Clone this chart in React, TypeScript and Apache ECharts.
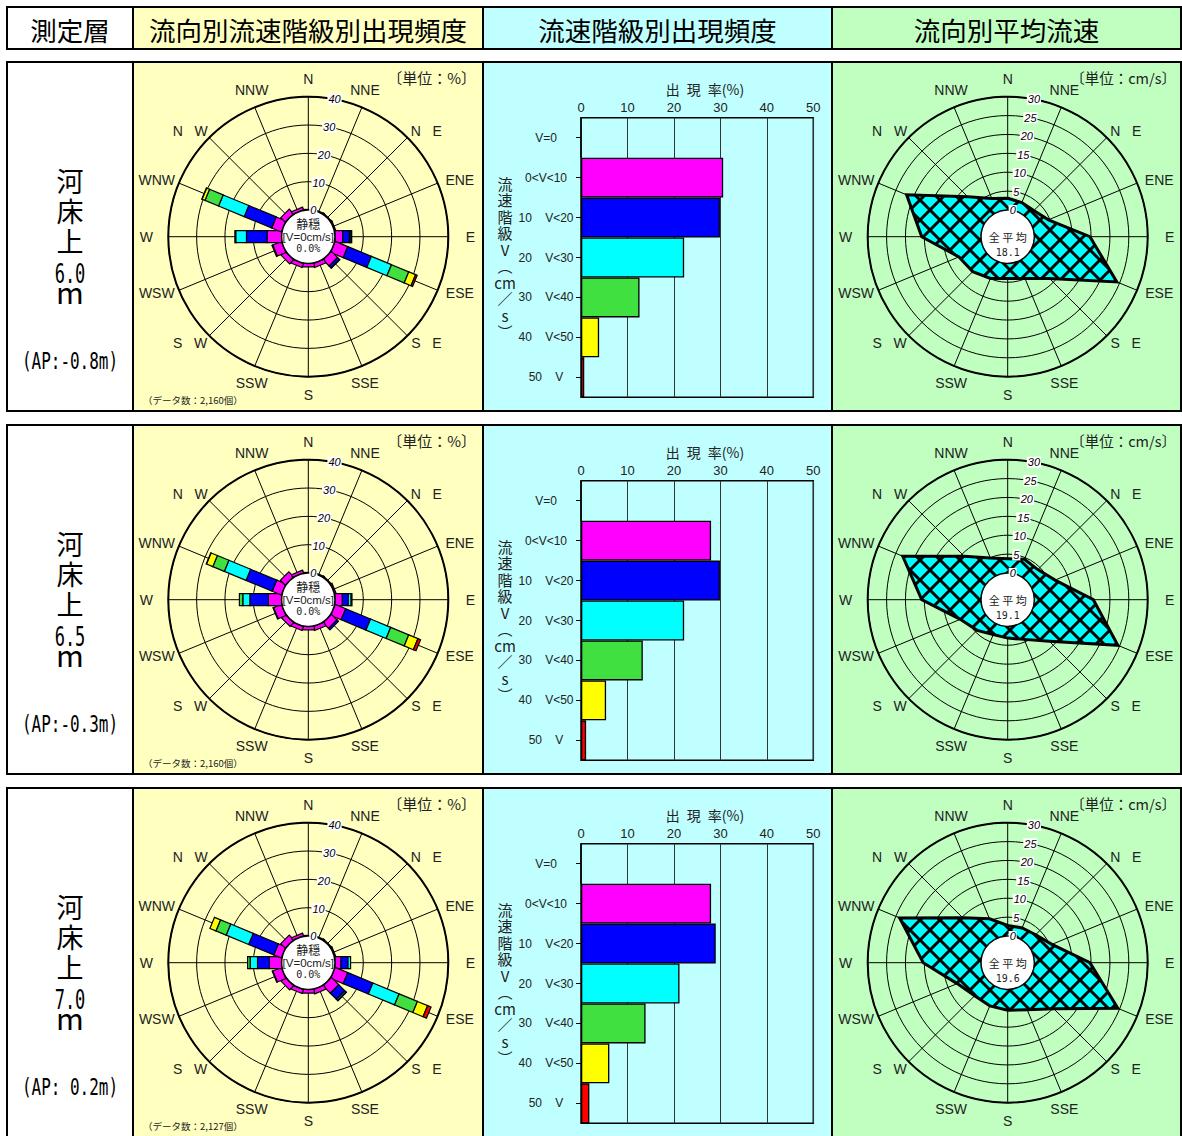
import React, { useEffect, useRef } from 'react';
import * as echarts from 'echarts';

// ---------------- categories / labels ----------------
const DIRECTION_LABELS = ['N', 'NNE', 'N   E', 'ENE', 'E', 'ESE', 'S   E', 'SSE', 'S', 'SSW', 'S   W', 'WSW', 'W', 'WNW', 'N   W', 'NNW'];
const DIRECTION_ANGLES = [0, 22.5, 45, 67.5, 90, 112.5, 135, 157.5, 180, 202.5, 225, 247.5, 270, 292.5, 315, 337.5];

const HEADER_TITLES = ['測定層', '流向別流速階級別出現頻度', '流速階級別出現頻度', '流向別平均流速'];
const LAYER_HEIGHTS = ['6.0', '6.5', '7.0'];
const LAYER_AP = ['(AP:-0.8m)', '(AP:-0.3m)', '(AP: 0.2m)'];
const DATA_COUNTS = ['2,160', '2,160', '2,127'];
const OVERALL_MEAN = ['18.1', '19.1', '19.6'];
const CALM_RATE = ['0.0%', '0.0%', '0.0%'];

const SPEED_CLASSES = ['V=0', '0<V<10', '10    V<20', '20    V<30', '30    V<40', '40    V<50', '50    V'];
const CLASS_COLORS = ['#999999', '#ff00ff', '#0000ff', '#00ffff', '#40e040', '#ffff00', '#ff0000'];
const ROSE_SEG_COLORS = ['#ff00ff', '#0000ff', '#00ffff', '#40e040', '#ffff00', '#ff0000'];

const FREQ_TICKS = [0, 10, 20, 30, 40];
const SPEED_TICKS = [0, 5, 10, 15, 20, 25, 30];

// ---------------- rose data (% per direction, per speed class) ----------------
// 河床上 6.0m
const R60_C1 = [0.2, 0.3, 0.3, 0.4, 2.7, 4.8, 3.1, 1.5, 1.2, 1.5, 2.0, 3.3, 5.1, 3.7, 2.2, 1.0];
const R60_C2 = [0, 0, 0, 0, 2.4, 9.0, 1.0, 0, 0, 0, 0, 0.3, 7.3, 10.5, 0, 0];
const R60_C3 = [0, 0, 0, 0, 0.5, 7.7, 0.1, 0, 0, 0, 0, 0, 3.8, 9.8, 0, 0];
const R60_C4 = [0, 0, 0, 0, 0.3, 6.6, 0, 0, 0, 0, 0, 0, 0.3, 5.2, 0, 0];
const R60_C5 = [0, 0, 0, 0, 0, 2.6, 0, 0, 0, 0, 0, 0, 0, 1.1, 0, 0];
const R60_C6 = [0, 0, 0, 0, 0, 0.6, 0, 0, 0, 0, 0, 0, 0, 0.1, 0, 0];
// 河床上 6.5m
const R65_C1 = [0.2, 0.3, 0.3, 0.5, 2.6, 4.0, 2.8, 1.5, 1.2, 1.5, 1.8, 3.0, 4.7, 3.5, 2.4, 1.0];
const R65_C2 = [0, 0, 0, 0, 2.1, 9.5, 0.7, 0, 0, 0, 0, 0.2, 6.5, 10.0, 0, 0];
const R65_C3 = [0, 0, 0, 0, 1.0, 7.7, 0, 0, 0, 0, 0, 0, 2.5, 8.3, 0, 0];
const R65_C4 = [0, 0, 0, 0, 0.3, 6.9, 0, 0, 0, 0, 0, 0, 1.2, 4.4, 0, 0];
const R65_C5 = [0, 0, 0, 0, 0, 3.5, 0, 0, 0, 0, 0, 0, 0, 2.4, 0, 0];
const R65_C6 = [0, 0, 0, 0, 0, 1.0, 0, 0, 0, 0, 0, 0, 0, 0.1, 0, 0];
// 河床上 7.0m
const R70_C1 = [0.2, 0.3, 0.3, 0.4, 2.1, 4.8, 3.7, 1.6, 1.3, 1.5, 2.0, 3.3, 4.3, 2.9, 2.2, 1.0];
const R70_C2 = [0, 0, 0, 0, 2.5, 9.6, 3.0, 0, 0, 0, 0, 0.2, 4.2, 9.6, 0, 0];
const R70_C3 = [0, 0, 0, 0, 0.9, 10.0, 0.6, 0, 0, 0, 0, 0, 2.6, 8.6, 0, 0];
const R70_C4 = [0, 0, 0, 0, 0, 7.0, 0.2, 0, 0, 0, 0, 0, 0.9, 3.9, 0, 0];
const R70_C5 = [0, 0, 0, 0, 0, 3.9, 0, 0, 0, 0, 0, 0, 0, 2.3, 0, 0];
const R70_C6 = [0, 0, 0, 0, 0, 1.3, 0, 0, 0, 0, 0, 0, 0, 0, 0, 0];

const ROSE_ROWS = [
  [R60_C1, R60_C2, R60_C3, R60_C4, R60_C5, R60_C6],
  [R65_C1, R65_C2, R65_C3, R65_C4, R65_C5, R65_C6],
  [R70_C1, R70_C2, R70_C3, R70_C4, R70_C5, R70_C6],
];

// ---------------- speed class frequency (%) ----------------
const CLASS_FREQ_60 = [0, 30.6, 29.9, 22.2, 12.6, 3.9, 0.7];
const CLASS_FREQ_65 = [0, 28.0, 29.9, 22.2, 13.3, 5.4, 1.1];
const CLASS_FREQ_70 = [0, 28.0, 29.0, 21.2, 13.9, 6.1, 1.8];
const CLASS_FREQ_ROWS = [CLASS_FREQ_60, CLASS_FREQ_65, CLASS_FREQ_70];

// ---------------- mean speed per direction (cm/s) ----------------
const MEAN_SPEED_60 = [3.1, 2.7, 2.7, 4.6, 14.7, 24.2, 8.6, 4.9, 4.0, 4.9, 6.0, 6.9, 15.7, 21.9, 7.9, 3.9];
const MEAN_SPEED_65 = [3.8, 4.5, 4.2, 6.5, 15.6, 24.5, 8.5, 4.3, 3.1, 2.9, 4.4, 6.5, 15.7, 23.0, 9.2, 4.9];
const MEAN_SPEED_70 = [2.8, 2.9, 3.4, 5.6, 14.7, 24.5, 10.2, 6.4, 5.5, 5.3, 5.3, 7.4, 15.3, 23.9, 9.8, 5.5];
const MEAN_SPEED_ROWS = [MEAN_SPEED_60, MEAN_SPEED_65, MEAN_SPEED_70];

// ---------------- layout ----------------
const COL_X = [7, 133, 483, 832, 1181];
const PANEL_COLORS = ['#ffffff', '#ffffc0', '#c0ffff', '#c0ffc0'];
const HEADER_TOP = 7;
const HEADER_H = 42;
const ROW_TOP = [62, 425, 788];
const ROW_H = 349;
const ROSE_CX = 308.3;
const VEL_CX = 1007.7;
const CY_OFF = 174.7;
const R_IN = 26.7;
const R_OUT = 140;
const FREQ_MAX = 40;
const SPEED_MAX = 30;
const GRID_LEFT = 581;
const GRID_TOP_OFF = 55.7;
const GRID_W = 232.3;
const GRID_H = 279.6;
const BAR_HALF = 6;
// direction label placement radii, indexed by steps (0..4) away from the N-S axis
const LABEL_RX = [0, 148, 167, 164, 162];
const LABEL_RY = [158, 158.8, 150, 148, 0];

const CJK = "'Noto Sans CJK JP', sans-serif";
const NARROW = "'Liberation Sans Narrow', 'Liberation Sans', Arial, sans-serif";
const SANS = "'Liberation Sans', Arial, sans-serif";
const MONO = "'DejaVu Sans Mono', monospace";

function makeHatch() {
  const s = 20;
  const c = document.createElement('canvas');
  c.width = s;
  c.height = s;
  const ctx = c.getContext('2d')!;
  ctx.fillStyle = '#00ffff';
  ctx.fillRect(0, 0, s, s);
  ctx.strokeStyle = '#000000';
  ctx.lineWidth = 3;
  ctx.beginPath();
  for (const k of [-s, 0, s]) {
    ctx.moveTo(k, 0);
    ctx.lineTo(k + s, s);
    ctx.moveTo(k + s, 0);
    ctx.lineTo(k, s);
  }
  ctx.stroke();
  return { image: c, repeat: 'repeat', imageWidth: s, imageHeight: s };
}

function txt(x: number, y: number, text: string, style: any, extra: any = {}) {
  return {
    type: 'text',
    x,
    y,
    z: 100,
    ...extra,
    style: {
      text,
      fill: '#111',
      align: 'center',
      verticalAlign: 'middle',
      textAlign: 'center',
      textVerticalAlign: 'middle',
      ...style,
    },
  };
}

function cell(x: number, y: number, w: number, h: number, fill: string) {
  return {
    type: 'rect',
    z: -10,
    shape: { x, y, width: w, height: h },
    style: { fill, stroke: '#000', lineWidth: 2 },
  };
}

function buildOption() {
  const hatch = makeHatch();
  const polar: any[] = [];
  const angleAxis: any[] = [];
  const radiusAxis: any[] = [];
  const grid: any[] = [];
  const xAxis: any[] = [];
  const yAxis: any[] = [];
  const series: any[] = [];
  const g: any[] = [];

  HEADER_TITLES.forEach((t, c) => {
    g.push(cell(COL_X[c], HEADER_TOP, COL_X[c + 1] - COL_X[c], HEADER_H, PANEL_COLORS[c]));
    g.push(txt((COL_X[c] + COL_X[c + 1]) / 2, HEADER_TOP + HEADER_H / 2 + 1, t, { fontSize: 26.5, fontFamily: CJK, fill: '#000' }));
  });

  const tickAngle = (10.8 * Math.PI) / 180;

  const addRoseDecor = (cx: number, cy: number, ticks: number[], max: number) => {
    DIRECTION_LABELS.forEach((lab, k) => {
      const a = (DIRECTION_ANGLES[k] * Math.PI) / 180;
      const m8 = k % 8;
      const d = Math.min(m8, 8 - m8);
      g.push(txt(cx + LABEL_RX[d] * Math.sin(a), cy - LABEL_RY[d] * Math.cos(a), lab, { fontSize: 14, fontFamily: NARROW, fill: '#222', lineHeight: 14 }));
    });
    ticks.forEach((v) => {
      const r = R_IN + (v / max) * (R_OUT - R_IN);
      g.push(
        txt(cx + r * Math.sin(tickAngle), cy - r * Math.cos(tickAngle), String(v), {
          fontSize: 11,
          fontStyle: 'italic',
          fontFamily: NARROW,
          fill: '#000',
          lineHeight: 11,
          backgroundColor: '#ffffff',
          padding: [0, 1],
        }, { z: 110 })
      );
    });
    g.push({
      type: 'circle',
      z: 50,
      shape: { cx, cy, r: R_IN },
      style: { fill: '#ffffff', stroke: '#000', lineWidth: 1.5 },
    });
  };

  ROW_TOP.forEach((T, i) => {
    // panel cells
    for (let c = 0; c < 4; c++) {
      g.push(cell(COL_X[c], T, COL_X[c + 1] - COL_X[c], ROW_H, PANEL_COLORS[c]));
    }
    // left column
    g.push(txt(70, T + 148.6, '河\n床\n上', { fontSize: 27, fontFamily: CJK, lineHeight: 30, fill: '#000' }));
    g.push(txt(0, 0, LAYER_HEIGHTS[i], { fontSize: 17, fontFamily: MONO, fill: '#000', lineHeight: 13 }, { x: 70, y: T + 211, scaleY: 1.55 }));
    g.push(txt(70, T + 229, 'm', { fontSize: 30, fontFamily: CJK, fill: '#000', lineHeight: 16 }));
    g.push(txt(0, 0, LAYER_AP[i], { fontSize: 16, fontFamily: MONO, fill: '#000' }, { x: 70, y: T + 299.7, scaleY: 1.45 }));

    const cy = T + CY_OFF;

    // ---------- frequency rose ----------
    const pr = polar.length;
    polar.push({ center: [ROSE_CX, cy], radius: [R_IN, R_OUT] });
    angleAxis.push({
      polarIndex: pr, type: 'value', min: 0, max: 360, interval: 22.5, startAngle: 90, clockwise: true,
      axisLine: { show: true, lineStyle: { color: '#000', width: 2 } },
      axisTick: { show: false }, axisLabel: { show: false },
      splitLine: { show: true, lineStyle: { color: '#000', width: 1 } },
    });
    radiusAxis.push({
      polarIndex: pr, type: 'value', min: 0, max: FREQ_MAX, interval: 10,
      axisLine: { show: false }, axisTick: { show: false }, axisLabel: { show: false },
      splitLine: { show: true, lineStyle: { color: '#000', width: 1 } },
    });
    const classes = ROSE_ROWS[i];
    series.push({
      type: 'custom',
      coordinateSystem: 'polar',
      polarIndex: pr,
      z: 5,
      data: DIRECTION_ANGLES.map((a, k) => [classes.reduce((s, arr) => s + arr[k], 0), a]),
      renderItem: (params: any, api: any) => {
        const k = params.dataIndex;
        const ang = api.value(1);
        const pA = api.coord([0, ang]);
        const pB = api.coord([FREQ_MAX, ang]);
        const len = Math.hypot(pB[0] - pA[0], pB[1] - pA[1]) || 1;
        const ux = (pB[0] - pA[0]) / len;
        const uy = (pB[1] - pA[1]) / len;
        const nx = -uy * BAR_HALF;
        const ny = ux * BAR_HALF;
        const children: any[] = [];
        let cum = 0;
        classes.forEach((arr, ci) => {
          const v = arr[k];
          if (!(v > 0)) return;
          const q0 = api.coord([cum, ang]);
          const q1 = api.coord([cum + v, ang]);
          cum += v;
          children.push({
            type: 'polygon',
            shape: {
              points: [
                [q0[0] + nx, q0[1] + ny],
                [q1[0] + nx, q1[1] + ny],
                [q1[0] - nx, q1[1] - ny],
                [q0[0] - nx, q0[1] - ny],
              ],
            },
            style: { fill: ROSE_SEG_COLORS[ci], stroke: '#000', lineWidth: 1.2 },
          });
        });
        return { type: 'group', children };
      },
    });
    addRoseDecor(ROSE_CX, cy, FREQ_TICKS, FREQ_MAX);
    g.push(txt(ROSE_CX, cy - 12.8, '静穏', { fontSize: 12, fontFamily: CJK, fill: '#222', lineHeight: 12 }, { z: 60 }));
    g.push(txt(ROSE_CX, cy + 0.5, '[V=0cm/s]', { fontSize: 11.5, fontFamily: NARROW, fill: '#222', lineHeight: 11 }, { z: 60 }));
    g.push(txt(ROSE_CX, cy + 12.2, CALM_RATE[i], { fontSize: 10, fontFamily: MONO, fill: '#222', lineHeight: 10 }, { z: 60 }));
    g.push(txt(476, T + 15, '〔単位：%〕', { fontSize: 15, fontFamily: CJK, fill: '#222', align: 'right', textAlign: 'right', lineHeight: 15 }));
    g.push(txt(143, T + 338, '（データ数：' + DATA_COUNTS[i] + '個）', { fontSize: 9.5, fontFamily: CJK, fill: '#222', align: 'left', textAlign: 'left' }));

    // ---------- speed class bar chart ----------
    grid.push({
      left: GRID_LEFT, top: T + GRID_TOP_OFF, width: GRID_W, height: GRID_H,
      show: true, borderColor: '#000', borderWidth: 1.5, backgroundColor: 'transparent',
    });
    xAxis.push({
      gridIndex: i, type: 'value', position: 'top', min: 0, max: 50, interval: 10,
      axisLine: { show: false }, axisTick: { show: false },
      axisLabel: { fontSize: 13, fontFamily: SANS, color: '#222', margin: 4 },
      splitLine: { show: true, lineStyle: { color: '#333', width: 1 } },
    });
    yAxis.push({
      gridIndex: i, type: 'category', inverse: true, data: SPEED_CLASSES,
      axisLine: { show: false },
      axisTick: { show: true, alignWithLabel: true, length: 5, lineStyle: { color: '#000' } },
      axisLabel: { fontSize: 12, fontFamily: NARROW, color: '#222', margin: 35, align: 'center' },
      splitLine: { show: false },
    });
    series.push({
      type: 'bar',
      xAxisIndex: i,
      yAxisIndex: i,
      barCategoryGap: '0%',
      data: CLASS_FREQ_ROWS[i].map((v, k) => ({ value: v, itemStyle: { color: CLASS_COLORS[k] } })),
      itemStyle: { borderColor: '#000', borderWidth: 1.3 },
    });
    g.push(txt(705, T + 27.3, '出\u2002現\u2002率(%)', { fontSize: 14, fontFamily: CJK, fill: '#222', lineHeight: 15 }));
    g.push(txt(505, T + 195.6, '流\n速\n階\n級\nV\n︵\ncm\n／\ns\n︶', { fontSize: 15, fontFamily: CJK, lineHeight: 16.5, fill: '#222' }));

    // ---------- mean speed rose ----------
    const pv = polar.length;
    polar.push({ center: [VEL_CX, cy], radius: [R_IN, R_OUT] });
    angleAxis.push({
      polarIndex: pv, type: 'value', min: 0, max: 360, interval: 22.5, startAngle: 90, clockwise: true,
      axisLine: { show: true, lineStyle: { color: '#000', width: 2 } },
      axisTick: { show: false }, axisLabel: { show: false },
      splitLine: { show: true, lineStyle: { color: '#000', width: 1 } },
    });
    radiusAxis.push({
      polarIndex: pv, type: 'value', min: 0, max: SPEED_MAX, interval: 5,
      axisLine: { show: false }, axisTick: { show: false }, axisLabel: { show: false },
      splitLine: { show: true, lineStyle: { color: '#000', width: 1 } },
    });
    const means = MEAN_SPEED_ROWS[i];
    series.push({
      type: 'custom',
      coordinateSystem: 'polar',
      polarIndex: pv,
      z: 5,
      data: means.map((v, k) => [v, DIRECTION_ANGLES[k]]),
      renderItem: (params: any, api: any) => {
        if (params.dataIndex !== 0) return { type: 'group', children: [] };
        const pts: number[][] = [];
        for (let j = 0; j < means.length; j++) {
          const p = api.coord([api.value(0, j), api.value(1, j)]);
          pts.push([p[0], p[1]]);
        }
        return {
          type: 'polygon',
          shape: { points: pts },
          style: { fill: hatch, stroke: '#000', lineWidth: 3, lineJoin: 'miter' },
        };
      },
    });
    addRoseDecor(VEL_CX, cy, SPEED_TICKS, SPEED_MAX);
    g.push(txt(VEL_CX, cy, '全 平 均', { fontSize: 11, fontFamily: CJK, fill: '#222', lineHeight: 11 }, { z: 60 }));
    g.push(txt(VEL_CX, cy + 15.5, OVERALL_MEAN[i], { fontSize: 10, fontFamily: MONO, fill: '#222', lineHeight: 10 }, { z: 60 }));
    g.push(txt(1176, T + 15, '〔単位：cm/s〕', { fontSize: 14.5, fontFamily: CJK, fill: '#222', align: 'right', textAlign: 'right', lineHeight: 15 }));
  });

  return {
    animation: false,
    backgroundColor: '#ffffff',
    textStyle: { fontFamily: SANS },
    polar,
    angleAxis,
    radiusAxis,
    grid,
    xAxis,
    yAxis,
    series,
    graphic: { elements: g },
  };
}

export default function App() {
  const ref = useRef<HTMLDivElement>(null);
  useEffect(() => {
    if (!ref.current) return;
    const chart = echarts.init(ref.current, null, { renderer: 'svg' });
    chart.setOption(buildOption() as any);
    return () => chart.dispose();
  }, []);
  return (
    <div
      ref={ref}
      style={{ position: 'absolute', left: 0, top: 0, width: 1182, height: 1136 }}
    />
  );
}
